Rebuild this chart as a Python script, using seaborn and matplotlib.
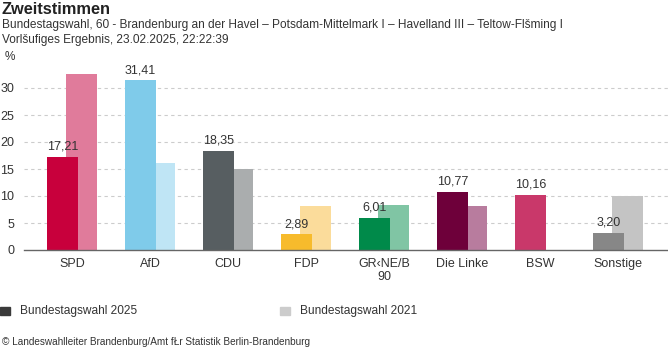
import numpy as np
import pandas as pd
import seaborn as sns
import matplotlib.pyplot as plt

# chart data
parties = ['SPD', 'AfD', 'CDU', 'FDP', 'GR\u2039NE/B\n90', 'Die Linke', 'BSW', 'Sonstige']
votes_2025 = [17.21, 31.41, 18.35, 2.89, 6.01, 10.77, 10.16, 3.20]
votes_2021 = [32.6, 16.2, 15.0, 8.2, 8.3, 8.1, 0.0, 10.0]
colors_2025 = ['#c8003c', '#7fcbea', '#575e61', '#f7bb2c', '#008a4a',
               '#6e003a', '#c9386a', '#878787']
colors_2021 = ['#e07b9b', '#bfe5f5', '#aaadae', '#fbdc9b', '#80c5a4',
               '#b87c9e', '#e39cb5', '#c4c4c4']

sns.set_theme(style='white')
plt.rcParams['font.family'] = ['Liberation Sans', 'DejaVu Sans']

fig = plt.figure(figsize=(6.68, 3.52), dpi=100)
ax = fig.add_axes([24 / 668, 1 - 250 / 352, 1 - 24 / 668, (250 - 61) / 352])

pos = np.arange(len(parties))
df21 = pd.DataFrame({'x': pos + 0.12, 'y': votes_2021, 'p': parties})
df25 = pd.DataFrame({'x': pos - 0.12, 'y': votes_2025, 'p': parties})

sns.barplot(data=df21, x='x', y='y', hue='p', palette=dict(zip(parties, colors_2021)),
            native_scale=True, width=0.4, legend=False, ax=ax, saturation=1, linewidth=0)
sns.barplot(data=df25, x='x', y='y', hue='p', palette=dict(zip(parties, colors_2025)),
            native_scale=True, width=0.4, legend=False, ax=ax, saturation=1, linewidth=0)

for xv, yv in zip(df25['x'], votes_2025):
    ax.text(xv, yv + 0.8, f'{yv:.2f}'.replace('.', ','), ha='center', va='bottom',
            fontsize=9, color='#333333')

ax.set_xlim(-0.615, 7.64)
ax.set_ylim(0, 35)
ax.set_xticks(pos)
ax.set_xticklabels(parties, fontsize=9, color='#333333', linespacing=1.1)
ax.set_yticks([0, 5, 10, 15, 20, 25, 30])
ax.set_yticklabels(['0', '5', '10', '15', '20', '25', '30'], fontsize=9, color='#333333')
ax.tick_params(axis='both', length=0)
ax.tick_params(axis='x', pad=6)
ax.tick_params(axis='y', pad=7)
for yv in [5, 10, 15, 20, 25, 30]:
    ax.axhline(yv, color='#cccccc', lw=0.8, ls=(0, (3, 3)), zorder=0)
ax.set_xlabel('')
ax.set_ylabel('')
for s in ['top', 'right', 'left']:
    ax.spines[s].set_visible(False)
ax.spines['bottom'].set_color('#666666')
ax.spines['bottom'].set_linewidth(1)

# titles
fig.text(2 / 668, 1 - 10 / 352, 'Zweitstimmen', fontsize=11.8, fontweight='bold',
         color='#222222', va='center')
fig.text(2 / 668, 1 - 25 / 352,
         'Bundestagswahl, 60 - Brandenburg an der Havel \u2013 Potsdam-Mittelmark I \u2013 '
         'Havelland III \u2013 Teltow-Fl\u0161ming I', fontsize=8.6, color='#333333', va='center')
fig.text(2 / 668, 1 - 40 / 352, 'Vorl\u0161ufiges Ergebnis, 23.02.2025, 22:22:39',
         fontsize=8.6, color='#333333', va='center')
fig.text(5 / 668, 1 - 57 / 352, '%', fontsize=8.5, color='#333333', va='center')

# legend
fig.patches.append(plt.Rectangle((0, 1 - 315 / 352), 10 / 668, 8 / 352,
                                 transform=fig.transFigure, color='#3a3a3a'))
fig.text(20 / 668, 1 - 311 / 352, 'Bundestagswahl 2025', fontsize=8.6, color='#333333', va='center')
fig.patches.append(plt.Rectangle((280 / 668, 1 - 315 / 352), 10 / 668, 8 / 352,
                                 transform=fig.transFigure, color='#cccccc'))
fig.text(300 / 668, 1 - 311 / 352, 'Bundestagswahl 2021', fontsize=8.6, color='#333333', va='center')

fig.text(2 / 668, 1 - 342 / 352,
         '\u00a9 Landeswahlleiter Brandenburg/Amt f\u0141r Statistik Berlin-Brandenburg',
         fontsize=7.2, color='#333333', va='center')

fig.savefig('out.png', dpi=100)
